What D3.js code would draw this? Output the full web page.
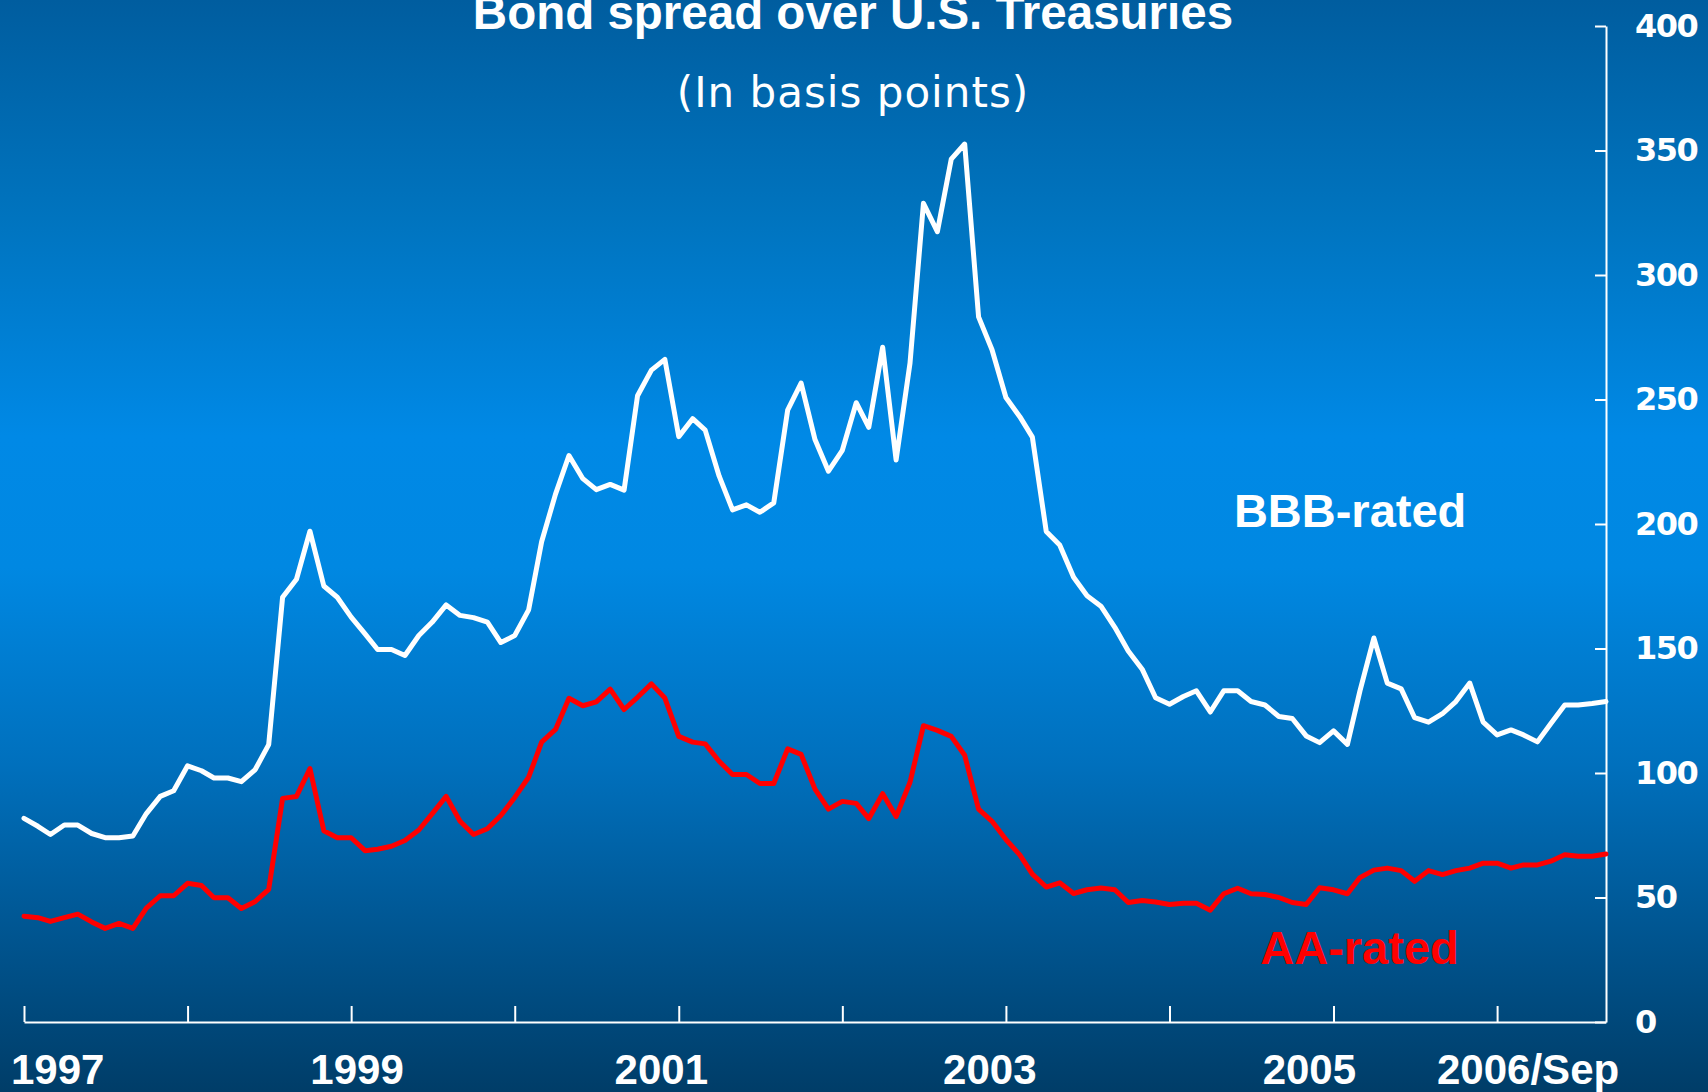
<!DOCTYPE html>
<meta charset="utf-8">
<style>
body { margin: 0; background: #004070; }
.line { fill: none; stroke-width: 5; stroke-linejoin: round; stroke-linecap: round; }
.axis path, .axis line { stroke: #fff; stroke-width: 2; }
.y-axis text { fill: #fff; font-family: "DejaVu Sans"; font-weight: bold; font-size: 32px; letter-spacing: -1.5px; }
.x-labels text { fill: #fff; font-family: "Liberation Sans", Arial; font-weight: bold; font-size: 42px; }
</style>
<svg width="1708" height="1092"></svg>
<script src="https://d3js.org/d3.v7.min.js"></script>
<script>

// monthly, Jan 1997 .. Sep 2006
var months = d3.timeMonth.range(new Date(1997, 0, 1), new Date(2006, 9, 1));

var bbb = [81.8, 78.6, 75.3, 79.1, 79.1, 75.7, 74.0, 74.0, 74.7, 83.7, 90.6, 92.9,
  102.9, 100.9, 98.0, 98.0, 96.5, 101.4, 111.4, 170.6, 177.8, 197.1, 175.1, 170.6,
  162.6, 155.9, 149.6, 149.6, 147.2, 155.2, 160.6, 167.5, 163.3, 162.4, 160.6, 152.4,
  155.2, 165.5, 192.9, 212.0, 227.5, 218.2, 213.8, 215.9, 213.6, 251.5, 261.8, 266.1,
  235.1, 242.3, 237.7, 219.3, 205.7, 207.7, 204.7, 208.5, 245.7, 256.6, 233.9, 221.2,
  229.6, 248.7, 238.8, 271.0, 225.7, 264.6, 328.8, 317.4, 346.5, 352.6, 283.2, 270.0,
  250.8, 243.1, 234.9, 197.0, 191.6, 178.6, 171.2, 167.0, 158.5, 149.0, 141.7, 130.2,
  127.6, 130.7, 133.0, 124.5, 133.0, 133.0, 128.7, 127.3, 122.7, 121.9, 114.9, 112.2,
  116.9, 111.5, 133.0, 154.2, 136.1, 133.8, 122.2, 120.4, 123.8, 128.7, 136.1, 120.4,
  115.3, 117.3, 115.3, 112.5, 119.9, 127.3, 127.3, 127.9, 128.7];

var aa = [42.5, 41.9, 40.4, 41.9, 43.3, 40.2, 37.6, 39.6, 37.6, 45.7, 50.7, 50.7,
  55.7, 54.8, 49.9, 49.9, 45.6, 48.4, 53.3, 89.8, 90.6, 101.8, 76.8, 74.0,
  74.0, 68.8, 69.4, 70.6, 72.9, 77.1, 83.7, 90.6, 80.6, 75.3, 77.6, 82.9,
  90.2, 98.3, 112.4, 117.5, 130.0, 127.0, 128.6, 133.7, 125.5, 130.4, 135.8, 130.1,
  114.7, 112.4, 111.7, 104.7, 99.4, 99.4, 95.8, 95.8, 109.7, 107.5, 93.5, 85.5,
  88.6, 87.8, 81.7, 91.7, 82.5, 96.3, 119.0, 117.1, 114.7, 107.1, 85.5, 80.6,
  73.3, 67.1, 59.4, 54.2, 55.9, 51.6, 53.1, 53.8, 53.1, 48.0, 48.8, 48.2,
  47.2, 47.7, 47.7, 44.9, 51.5, 53.7, 51.5, 51.2, 50.0, 48.0, 47.2, 53.9,
  53.1, 51.5, 58.0, 61.0, 61.8, 60.8, 56.5, 60.8, 59.2, 60.8, 61.8, 63.8,
  63.8, 61.8, 63.1, 63.1, 64.6, 67.2, 66.6, 66.6, 67.5];

var yTicks = [0, 50, 100, 150, 200, 250, 300, 350, 400];
var xLabels = ["1997", "1999", "2001", "2003", "2005", "2006/Sep"];
var xLabelDates = [new Date(1997, 2, 16), new Date(1999, 0, 13), new Date(2000, 10, 22),
  new Date(2002, 10, 25), new Date(2004, 10, 7), new Date(2006, 2, 10)];

var svg = d3.select("svg"),
    width = +svg.attr("width"),
    height = +svg.attr("height");

// background gradient
var grad = svg.append("defs").append("linearGradient")
    .attr("id", "bg")
    .attr("x1", 0).attr("y1", 0).attr("x2", 0).attr("y2", 1);
[[0, "#005d9f"], [0.2, "#0074bf"], [0.4, "#0089e6"], [0.52, "#0088e2"],
 [0.7, "#0070bd"], [0.85, "#005692"], [1, "#003d68"]].forEach(function(s) {
  grad.append("stop").attr("offset", s[0]).attr("stop-color", s[1]);
});
svg.append("rect").attr("width", width).attr("height", height).attr("fill", "url(#bg)");

var x = d3.scaleTime()
    .domain([months[0], months[months.length - 1]])
    .range([24, 1606]);

var y = d3.scaleLinear()
    .domain([0, 400])
    .range([1022, 26]);

// axes
svg.append("g")
    .attr("class", "axis")
    .attr("transform", "translate(0,1022)")
    .call(d3.axisBottom(x)
      .ticks(d3.timeYear.every(1))
      .tickSizeInner(-16)
      .tickSizeOuter(0)
      .tickFormat(""));

svg.append("g")
    .attr("class", "axis x-labels")
    .attr("transform", "translate(0,1022)")
    .call(d3.axisBottom(x)
      .tickValues(xLabelDates)
      .tickSize(0)
      .tickPadding(32)
      .tickFormat(function(d, i) { return xLabels[i]; }))
  .call(function(g) { g.select(".domain").remove(); });

svg.append("g")
    .attr("class", "axis y-axis")
    .attr("transform", "translate(1606,0)")
    .call(d3.axisRight(y)
      .tickValues(yTicks)
      .tickSizeInner(-11)
      .tickSizeOuter(0)
      .tickPadding(29));

// lines
var line = d3.line()
    .x(function(d, i) { return x(months[i]); })
    .y(function(d) { return y(d); });

svg.append("path").datum(bbb).attr("class", "line").attr("stroke", "#fff").attr("d", line);
svg.append("path").datum(aa).attr("class", "line").attr("stroke", "#ff0000").attr("d", line);

// titles
svg.append("text")
    .attr("x", 853).attr("y", 29)
    .attr("text-anchor", "middle")
    .attr("fill", "#fff")
    .style("font", "bold 47.5px 'Liberation Sans', Arial")
    .text("Bond spread over U.S. Treasuries");

svg.append("text")
    .attr("x", 853).attr("y", 107)
    .attr("text-anchor", "middle")
    .attr("fill", "#fff")
    .style("font", "42px 'DejaVu Sans'")
    .style("letter-spacing", "1px")
    .text("(In basis points)");

// series labels
svg.append("text")
    .attr("x", x(new Date(2005, 1, 7))).attr("y", y(198.8))
    .attr("text-anchor", "middle")
    .attr("fill", "#fff")
    .style("font", "bold 47px 'Liberation Sans', Arial")
    .text("BBB-rated");

svg.append("text")
    .attr("x", x(new Date(2005, 1, 28))).attr("y", y(23.3))
    .attr("text-anchor", "middle")
    .attr("fill", "#ff0000")
    .style("font", "bold 47px 'Liberation Sans', Arial")
    .text("AA-rated");

</script>
